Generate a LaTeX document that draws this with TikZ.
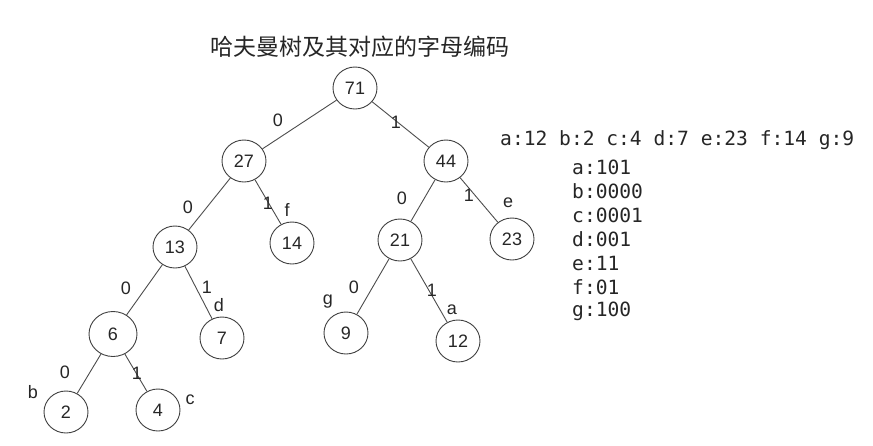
\documentclass[tikz,border=0pt]{standalone}
\usepackage{fontspec}
\setmainfont{Liberation Sans}
\newfontfamily\monofnt{DejaVu Sans Mono}
\newfontfamily\cjk{Noto Sans CJK SC}
\usetikzlibrary{shapes.geometric}
\begin{document}
\begin{tikzpicture}[x=1pt,y=-1pt,
  tnode/.style={ellipse,draw=black!75,line width=0.9pt,minimum width=44pt,minimum height=42pt,inner sep=0pt,font=\fontsize{18}{18}\selectfont,text=black!85},
  edge/.style={draw=black!70,line width=0.9pt},
  lbl/.style={inner sep=0pt,font=\fontsize{18}{18}\selectfont,text=black!85},
  code/.style={inner sep=0pt,anchor=west,font=\monofnt\fontsize{19.6}{19.6}\selectfont,text=black!85}]
\useasboundingbox (0,0) rectangle (873,445);
\node[inner sep=0pt,font=\cjk\fontsize{23}{23}\selectfont,text=black!85] (title) at (360,47) {哈夫曼树及其对应的字母编码};
% nodes
\node[tnode] (n71) at (355,88) {71};
\node[tnode] (n27) at (244,161) {27};
\node[tnode] (n44) at (446,161) {44};
\node[tnode] (n13) at (175,247) {13};
\node[tnode] (n14) at (292,243) {14};
\node[tnode] (n21) at (400,240) {21};
\node[tnode] (n23) at (512,239) {23};
\node[tnode,minimum width=48pt,minimum height=45pt] (n6) at (113,334) {6};
\node[tnode] (n7) at (222,338) {7};
\node[tnode] (n9) at (346,333) {9};
\node[tnode] (n12) at (458,341) {12};
\node[tnode] (n2) at (66,412) {2};
\node[tnode] (n4) at (158,410) {4};
% edges
\draw[edge] (n71) -- (n27);
\draw[edge] (n71) -- (n44);
\draw[edge] (n27) -- (n13);
\draw[edge] (n27) -- (n14);
\draw[edge] (n44) -- (n21);
\draw[edge] (n44) -- (n23);
\draw[edge] (n13) -- (n6);
\draw[edge] (n13) -- (n7);
\draw[edge] (n21) -- (n9);
\draw[edge] (n21) -- (n12);
\draw[edge] (n6) -- (n2);
\draw[edge] (n6) -- (n4);
% edge labels
\node[lbl] (l1) at (278,120) {0};
\node[lbl] (l2) at (396,122) {1};
\node[lbl] (l3) at (188,207) {0};
\node[lbl] (l4) at (268,203) {1};
\node[lbl] (l5) at (287,210) {f};
\node[lbl] (l6) at (402,198) {0};
\node[lbl] (l7) at (469,195) {1};
\node[lbl] (l8) at (508,203) {e};
\node[lbl] (l9) at (126,288) {0};
\node[lbl] (l10) at (207,287) {1};
\node[lbl] (l11) at (219,305) {d};
\node[lbl] (l12) at (354,287) {0};
\node[lbl] (l13) at (432,290) {1};
\node[lbl] (l14) at (328,302) {g};
\node[lbl] (l15) at (452,310) {a};
\node[lbl] (l16) at (65,372) {0};
\node[lbl] (l17) at (137,373) {1};
\node[lbl] (l18) at (33,392) {b};
\node[lbl] (l19) at (190,400) {c};
% codes
\node[code] (freq) at (500,140) {a:12 b:2 c:4 d:7 e:23 f:14 g:9};
\node[code] (ca) at (572,167) {a:101};
\node[code] (cb) at (572,191) {b:0000};
\node[code] (cc) at (572,215) {c:0001};
\node[code] (cd) at (572,239) {d:001};
\node[code] (ce) at (572,263) {e:11};
\node[code] (cf) at (572,287) {f:01};
\node[code] (cg) at (572,311) {g:100};
\end{tikzpicture}
\end{document}
